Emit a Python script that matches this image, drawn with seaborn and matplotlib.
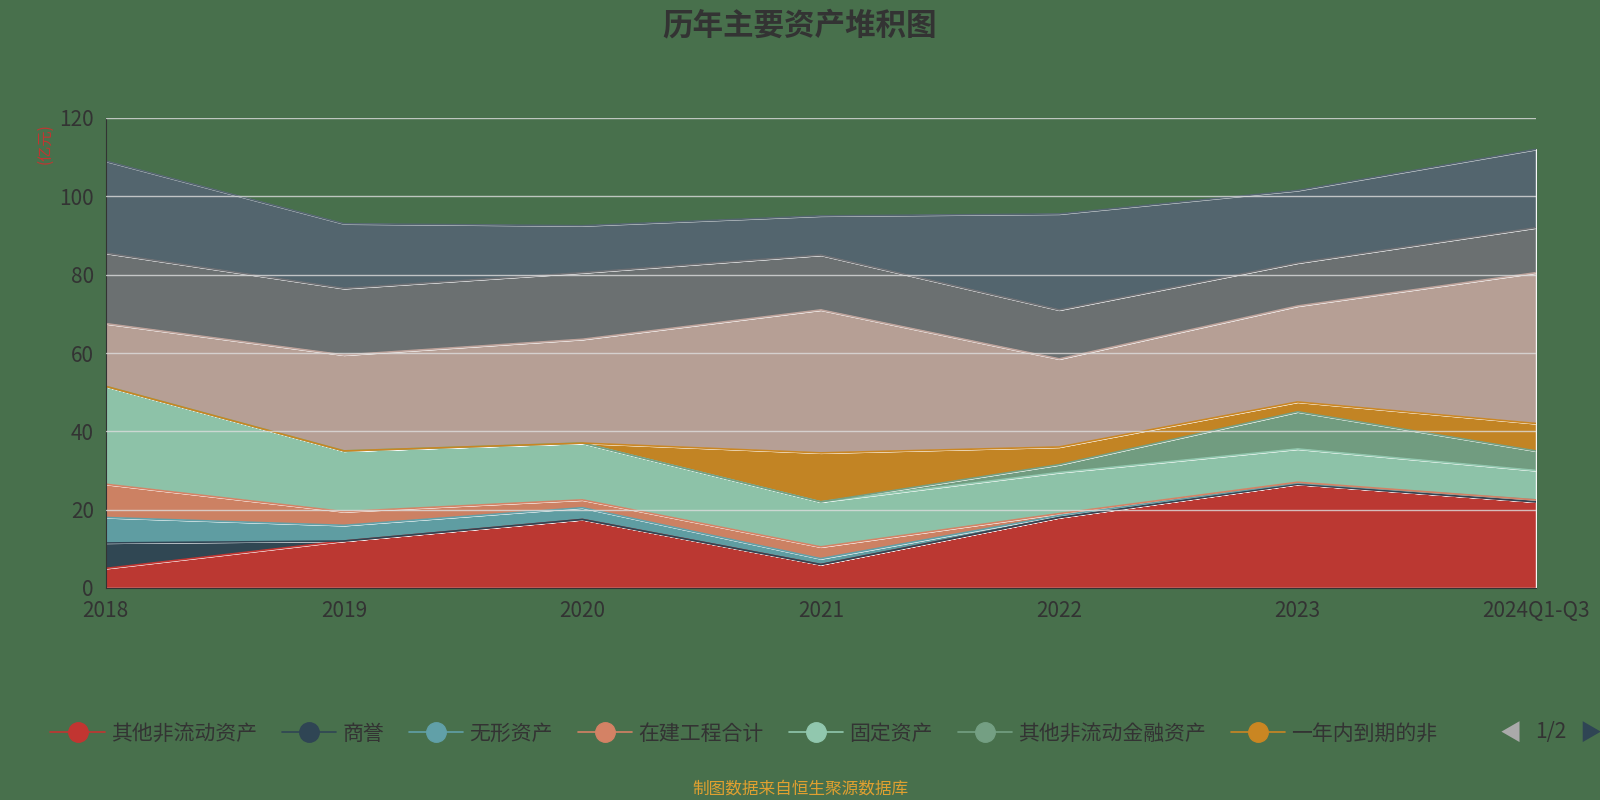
import numpy as np
import matplotlib
matplotlib.use("Agg")
import matplotlib.pyplot as plt
from matplotlib import font_manager
from matplotlib.lines import Line2D
import seaborn as sns

years = ["2018", "2019", "2020", "2021", "2022", "2023", "2024Q1-Q3"]
series_names = ["其他非流动资产", "商誉", "无形资产", "在建工程合计", "固定资产",
                "其他非流动金融资产", "一年内到期的非流动资产",
                "长期股权投资", "递延所得税资产", "其他"]
other_nca = [5, 12, 17.5, 6, 18, 26.5, 22]
goodwill = [6.5, 0, 0, 0, 0, 0, 0]
intangible = [6.5, 4, 3, 1.5, 0.5, 0.3, 0.5]
construction = [8.5, 3.5, 2, 3, 0.5, 0.2, 0]
fixed = [25, 15.5, 14.5, 11.5, 10.5, 8.5, 7.5]
other_fin = [0, 0, 0, 0, 2, 9.5, 5]
due_in_year = [0, 0, 0, 12.5, 4.5, 2.5, 7]
equity_inv = [16, 24.5, 26.5, 36.5, 22.5, 24.5, 38.5]
deferred_tax = [18, 17, 17, 14, 12.5, 11, 11.5]
others = [23.5, 16.5, 12, 10, 24.5, 18.5, 20]
values = [other_nca, goodwill, intangible, construction, fixed, other_fin,
          due_in_year, equity_inv, deferred_tax, others]
colors = ["#c23531", "#2f4554", "#61a0a8", "#d48265", "#91c7ae", "#749f83",
          "#ca8622", "#bda29a", "#6e7074", "#546570"]

# find a CJK font file
cjk = None
for f in font_manager.fontManager.ttflist:
    if "CJK SC" in f.name or "CJK" in f.name:
        cjk = f.name
        if "SC" in f.name:
            break
bg = "#48704c"
sns.set_style("white")
plt.rcParams["font.family"] = "sans-serif"
plt.rcParams["font.sans-serif"] = ([cjk] if cjk else []) + ["DejaVu Sans"]

fig = plt.figure(figsize=(16, 8), dpi=100, facecolor=bg)
ax = fig.add_axes([0.066, 0.265, 0.894, 0.5875])
ax.set_facecolor(bg)
x = np.arange(len(years))
ax.stackplot(x, *values, colors=colors, alpha=0.95)
cum = np.cumsum(np.array(values), axis=0)
for c, top in zip(colors, cum):
    sns.lineplot(x=x, y=top, color=c, lw=1.2, ax=ax)

ax.set_xlim(0, len(years) - 1)
ax.set_ylim(0, 120)
ax.set_yticks(range(0, 121, 20))
ax.set_xticks(x)
ax.set_xticklabels(years)
ax.tick_params(labelsize=15, colors="#333333", length=5)
for t in range(20, 121, 20):
    ax.axhline(t, color="#dddddd", lw=1, zorder=5, alpha=0.8)
for s in ["top", "right"]:
    ax.spines[s].set_visible(False)
ax.spines["left"].set_color("#333333")
ax.spines["bottom"].set_color("#333333")
fig.text(0.028, 0.82, "(亿元)", color="#c23531", rotation=90, fontsize=11,
         ha="center", va="center")

fig.text(0.5, 0.968, "历年主要资产堆积图", ha="center", va="center",
         fontsize=22, fontweight="bold", color="#333333")

handles = [Line2D([], [], color=c, marker="o", markersize=14, lw=1.2)
           for c in colors[:7]]
fig.legend(handles, series_names[:6] + ["一年内到期的非"], loc="center",
           bbox_to_anchor=(0.465, 0.083), ncol=7, frameon=False, fontsize=15,
           labelcolor="#333333", handlelength=2.6, columnspacing=1.2,
           handletextpad=0.3)
fig.text(0.944, 0.083, "◀", color="#aaaaaa", fontsize=16, ha="center", va="center")
fig.text(0.969, 0.085, "1/2", color="#333333", fontsize=15, ha="center", va="center")
fig.text(0.994, 0.083, "▶", color="#2f4554", fontsize=16, ha="center", va="center")

fig.text(0.5, 0.014, "制图数据来自恒生聚源数据库", ha="center", va="center",
         fontsize=12, color="#e0a030")

fig.savefig("out.png", facecolor=bg)
